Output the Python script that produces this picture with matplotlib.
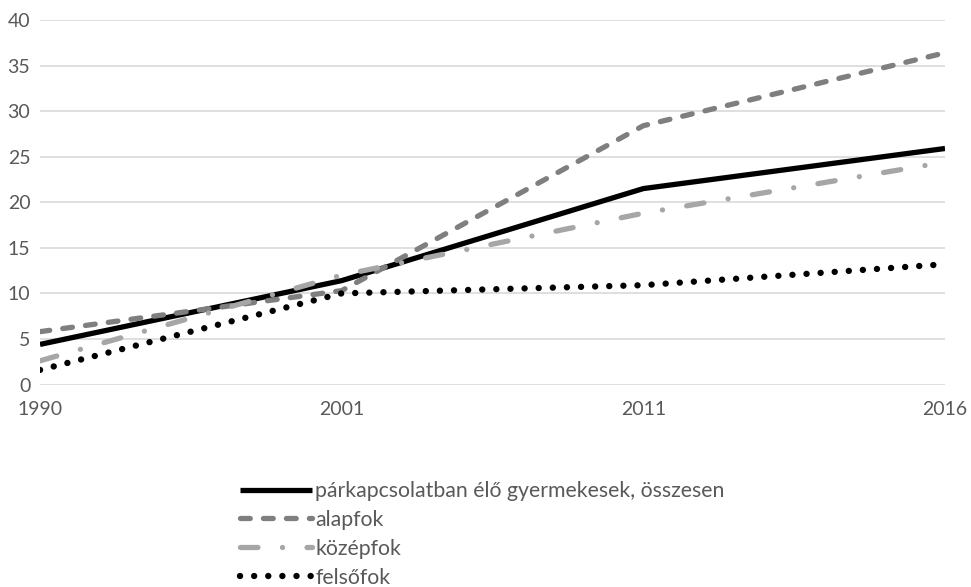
import numpy as np
import matplotlib.pyplot as plt

plt.rcParams['font.family'] = ['Lato', 'DejaVu Sans']

# data
years = ['1990', '2001', '2011', '2016']
osszesen = [4.4, 11.4, 21.5, 25.9]
alapfok = [5.8, 10.3, 28.4, 36.4]
kozepfok = [2.6, 12.0, 18.8, 24.4]
felsofok = [1.6, 10.0, 10.9, 13.2]

fig = plt.figure(figsize=(9.71, 5.87), dpi=100)
ax = fig.add_axes([40 / 971, 1 - 384.5 / 587, 905 / 971, 364.5 / 587])

x = np.arange(len(years))
lw = 3.8
ax.plot(x, osszesen, color='black', lw=lw, solid_capstyle='butt',
        label='párkapcsolatban élő gyermekesek, összesen')
ax.plot(x, alapfok, color='#7f7f7f', lw=lw, dashes=(1.85, 2.5), dash_capstyle='round',
        label='alapfok')
ax.plot(x, kozepfok, color='#a6a6a6', lw=lw, dashes=(3.3, 4.65, 0.01, 4.65), dash_capstyle='round',
        label='középfok')
ax.plot(x, felsofok, color='black', lw=4.6, dashes=(0.01, 2.2), dash_capstyle='round',
        label='felsőfok')

ax.set_xlim(0, len(years) - 1)
ax.set_ylim(0, 40)
ax.set_xticks(x)
ax.set_xticklabels(years)
ax.set_yticks(range(0, 41, 5))
ax.grid(axis='y', color='#d9d9d9', lw=1.2)
ax.set_axisbelow(True)
for s in ax.spines.values():
    s.set_visible(False)
ax.tick_params(length=0, labelsize=14, labelcolor='#595959')
ax.tick_params(axis='x', pad=12)
ax.tick_params(axis='y', pad=7)

leg = fig.legend(loc='upper left', bbox_to_anchor=(240 / 971, 1 - 481 / 587),
                 frameon=False, fontsize=15.3, handlelength=3.4, handletextpad=0.15,
                 labelspacing=0.42, borderpad=0, borderaxespad=0)
for t in leg.get_texts():
    t.set_color('#595959')

fig.savefig('out.png', dpi=100)
